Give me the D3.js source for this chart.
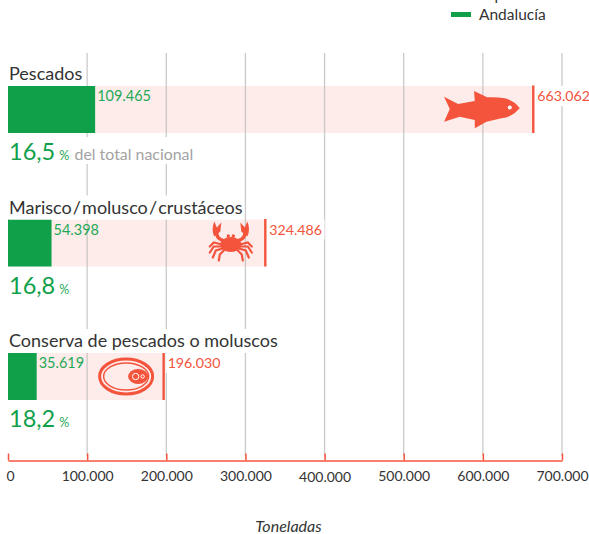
<!DOCTYPE html>
<html lang="es">

<head>
	<meta charset="UTF-8">
	<title>Toneladas</title>
	<script type="text/javascript" src="https://cdn.jsdelivr.net/npm/d3@7/dist/d3.min.js" charset="UTF-8"></script>
	<style>
		html, body { margin: 0; padding: 0; background: #fff; }
		svg { display: block; }
		text { font-family: Lato, "Noto Sans", sans-serif; }
	</style>
</head>

<body>
	<script>
	var categories = ['Pescados', 'Marisco\u200a/\u200amolusco\u200a/\u200acrustáceos', 'Conserva de pescados o moluscos'];
	var espana = [663062, 324486, 196030];
	var andalucia = [109465, 54398, 35619];
	var shares = ['16,5', '16,8', '18,2'];
	var tickValues = [0, 100000, 200000, 300000, 400000, 500000, 600000, 700000];

	var width = 589,
		height = 534,
		barHeight = 47;

	var barTops = [86, 219.5, 353];
	var red = '#f4533c',
		green = '#10a04a',
		pink = '#fdecea';

	var format = d3.format(',');
	function es(d) {
		return format(d).replace(/,/g, '.');
	}

	var svg = d3.select('body').append('svg')
		.attr('width', width)
		.attr('height', height);

	var xScale = d3.scaleLinear()
		.domain([0, 700000])
		.range([8, 562]);

	// pink bars
	svg.selectAll('.total')
		.data(espana)
		.enter().append('rect')
		.attr('x', xScale(0))
		.attr('y', (d, i) => barTops[i])
		.attr('width', d => xScale(d) - xScale(0))
		.attr('height', barHeight)
		.attr('fill', pink);

	// grid
	svg.selectAll('.grid')
		.data(tickValues.slice(1))
		.enter().append('line')
		.attr('x1', d => xScale(d))
		.attr('x2', d => xScale(d))
		.attr('y1', 53)
		.attr('y2', 456)
		.attr('stroke', '#bdbdbd')
		.attr('stroke-opacity', 0.8)
		.attr('stroke-width', 1.3);

	// white patches behind the labels cut the grid
	var rows = svg.selectAll('.row')
		.data(categories)
		.enter().append('g');

	rows.each(function(d, i) {
		var g = d3.select(this);
		var top = barTops[i];

		g.append('rect')
			.attr('x', xScale(0))
			.attr('y', top)
			.attr('width', xScale(andalucia[i]) - xScale(0) + 0.5)
			.attr('height', barHeight)
			.attr('fill', green);

		// end mark of the national total
		g.append('line')
			.attr('x1', xScale(espana[i]) + 0.5)
			.attr('x2', xScale(espana[i]) + 0.5)
			.attr('y1', top - 0.5)
			.attr('y2', top + barHeight)
			.attr('stroke', red)
			.attr('stroke-width', 2.4);

		var title = g.append('text')
			.attr('x', 9)
			.attr('y', top - 6)
			.attr('fill', '#333')
			.attr('font-size', 18)
			.text(d);
		var box = title.node().getBBox();
		g.insert('rect', 'text')
			.attr('x', box.x)
			.attr('y', top - 24)
			.attr('width', box.width + 1)
			.attr('height', 24)
			.attr('fill', '#fff');

		g.append('text')
			.attr('x', xScale(andalucia[i]) + 2.5)
			.attr('y', top + 15)
			.attr('fill', '#1fa956')
			.attr('font-size', 14.5)
			.text(es(andalucia[i]));

		var totalLabel = g.append('text')
			.attr('x', xScale(espana[i]) + 4.5)
			.attr('y', top + 15)
			.attr('fill', red)
			.attr('font-size', 14.2)
			.text(es(espana[i]));
		var labelBox = totalLabel.node().getBBox();
		g.insert('rect', 'text')
			.attr('x', labelBox.x - 1.5)
			.attr('y', top)
			.attr('width', labelBox.width + 4)
			.attr('height', 20)
			.attr('fill', '#fff');

		g.append('rect')
			.attr('x', 8)
			.attr('y', top + barHeight + 4)
			.attr('width', i === 0 ? 186 : 60)
			.attr('height', 27)
			.attr('fill', '#fff');

		var share = g.append('text')
			.attr('x', 9)
			.attr('y', top + barHeight + 27)
			.attr('fill', green);
		share.append('tspan')
			.attr('font-size', 23.5)
			.text(shares[i]);
		share.append('tspan')
			.attr('dx', 4)
			.attr('font-size', 12.5)
			.attr('fill', '#1fa956')
			.text('%');

		if (i === 0) {
			g.append('text')
				.attr('x', 74.5)
				.attr('y', top + barHeight + 27)
				.attr('fill', '#a3a3a3')
				.attr('font-size', 15.9)
				.text('del total nacional');
		}
	});

	// x axis
	var xAxis = d3.axisBottom(xScale)
		.tickValues(tickValues)
		.tickFormat(es)
		.tickSizeInner(-7)
		.tickSizeOuter(0)
		.tickPadding(11);

	var axisG = svg.append('g')
		.attr('transform', 'translate(0,460.5)')
		.call(xAxis);

	axisG.select('.domain')
		.attr('stroke', '#f7806f')
		.attr('stroke-width', 2);
	axisG.selectAll('.tick line')
		.attr('stroke', red)
		.attr('stroke-width', 1.5);
	axisG.selectAll('.tick text')
		.attr('fill', '#333')
		.attr('font-size', 14)
		.attr('font-family', 'Lato, "Noto Sans", sans-serif')
		.attr('transform', d => d === 400000 ? 'translate(0,1)' : d === 0 ? 'translate(2,0)' : null);

	svg.append('text')
		.attr('x', 288.5)
		.attr('y', 532)
		.attr('text-anchor', 'middle')
		.attr('fill', '#333')
		.attr('font-size', 16)
		.attr('font-style', 'italic')
		.text('Toneladas');

	// legend, first row is cut by the top of the picture
	svg.append('text')
		.attr('x', 479)
		.attr('y', 0)
		.attr('fill', '#333')
		.attr('font-size', 15.5)
		.text('España');
	svg.append('rect')
		.attr('x', 451)
		.attr('y', 12)
		.attr('width', 20)
		.attr('height', 5)
		.attr('fill', green);
	svg.append('text')
		.attr('x', 479)
		.attr('y', 20)
		.attr('fill', '#333')
		.attr('font-size', 15.5)
		.text('Andalucía');

	// fish
	var fish = svg.append('g')
		.attr('transform', `translate(${xScale(espana[0]) - 89},${barTops[0]})`);
	fish.append('path')
		.attr('fill', red)
		.attr('d', 'M0.3,10.7 L14.3,18 L31,15 L30.3,5 L43.3,11.3 Q54,11 61,12.3 Q71,15 76,22.3 L71,27 Q66,31 57.7,32.3 L42.7,35.7 L31,42.3 L31,34 L16,30.7 L0.3,35.7 L6,23 Z');
	fish.append('circle')
		.attr('cx', 66)
		.attr('cy', 21.5)
		.attr('r', 2)
		.attr('fill', '#fff');

	// crab
	var crab = svg.append('g')
		.attr('transform', `translate(${xScale(espana[1]) - 34},${barTops[1] + 24})`)
		.attr('fill', 'none')
		.attr('stroke', red)
		.attr('stroke-linecap', 'round');
	crab.append('ellipse')
		.attr('cx', 0).attr('cy', 1).attr('rx', 10.5).attr('ry', 7.5)
		.attr('fill', red).attr('stroke', 'none');
	crab.selectAll('.eye')
		.data([-2.5, 2.5])
		.enter().append('circle')
		.attr('cx', d => d).attr('cy', -7.5).attr('r', 1.7)
		.attr('fill', red).attr('stroke', 'none');
	[-1, 1].forEach(function(s) {
		var side = crab.append('g').attr('transform', `scale(${s},1)`);
		side.append('path')
			.attr('stroke-width', 3.4)
			.attr('d', 'M8,-3 Q15,-5 14,-13');
		side.append('path')
			.attr('fill', red).attr('stroke', 'none')
			.attr('d', 'M10.5,-12 L9.5,-21 L14,-16 L16.5,-22 Q20,-14 16.5,-7 Z');
		side.append('path')
			.attr('stroke-width', 2.2)
			.attr('d', 'M9,1 L17,-1 L21,3 M9,3 L17,3 L21,9 M8,5 L15,7 L18,14 M6,6 L11,11 L12,17');
	});

	// tin
	var tin = svg.append('g')
		.attr('transform', `translate(${xScale(espana[2]) - 37},${barTops[2] + 23.5})`)
		.attr('fill', 'none')
		.attr('stroke', red);
	tin.append('ellipse').attr('rx', 26.5).attr('ry', 17.5).attr('stroke-width', 3);
	tin.append('ellipse').attr('rx', 22.5).attr('ry', 13.5).attr('stroke-width', 1.4);
	tin.append('ellipse').attr('cx', 12).attr('rx', 10).attr('ry', 7.5).attr('fill', red).attr('stroke', 'none');
	tin.append('circle').attr('cx', 9.5).attr('r', 3.2).attr('stroke', '#fff').attr('stroke-width', 1);
	tin.append('circle').attr('cx', 16.5).attr('r', 1.7).attr('stroke', '#fff').attr('stroke-width', 1);
	</script>

</body>

</html>
